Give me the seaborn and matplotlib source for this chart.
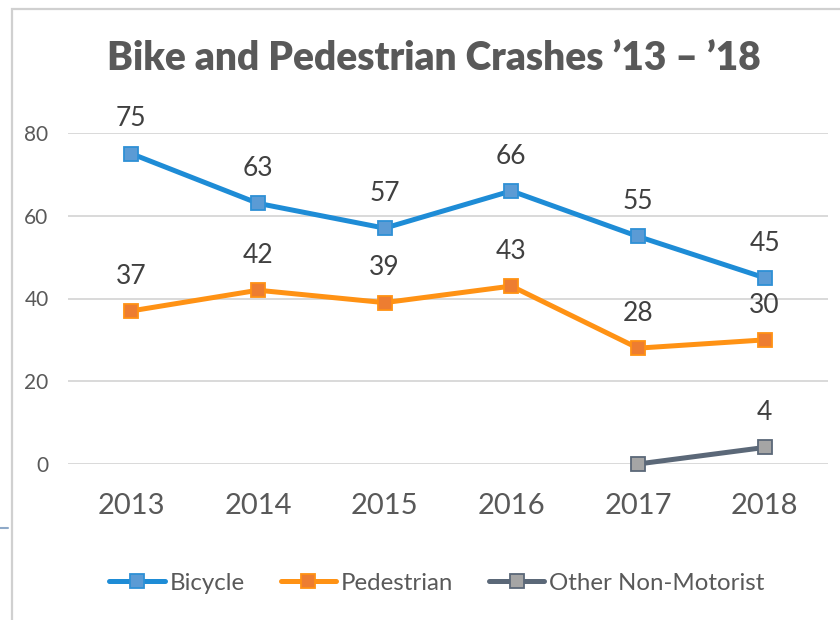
import numpy as np
import pandas as pd
import seaborn as sns
import matplotlib
matplotlib.use("Agg")
import matplotlib.pyplot as plt
from matplotlib.lines import Line2D
from matplotlib.patches import Rectangle

years = ["2013", "2014", "2015", "2016", "2017", "2018"]
bicycle = [75, 63, 57, 66, 55, 45]
pedestrian = [37, 42, 39, 43, 28, 30]
other = [np.nan, np.nan, np.nan, np.nan, 0, 4]
series_names = ["Bicycle", "Pedestrian", "Other Non-Motorist"]
yticks = [0, 20, 40, 60, 80]
title = "Bike and Pedestrian Crashes \u201913 \u2013 \u201918"

sns.set_theme(style="white")
plt.rcParams["font.family"] = ["Lato", "DejaVu Sans"]

W, H = 840, 620
fig = plt.figure(figsize=(W / 100, H / 100), dpi=100)
ax = fig.add_axes([68 / W, 1 - 464 / H, (828 - 68) / W, (464 - 133) / H])

styles = {
    "Bicycle": dict(line="#1E8CD6", face="#5B9BD5", edge="#2E90D6"),
    "Pedestrian": dict(line="#FF9214", face="#ED7D31", edge="#FF9214"),
    "Other Non-Motorist": dict(line="#5B6878", face="#A5A5A5", edge="#5B6878"),
}

x = np.arange(len(years))
for name, vals in zip(series_names, [bicycle, pedestrian, other]):
    df = pd.DataFrame({"x": x, "y": vals}).dropna()
    st = styles[name]
    sns.lineplot(data=df, x="x", y="y", ax=ax, color=st["line"], linewidth=3.6,
                 marker="s", markersize=10, markerfacecolor=st["face"],
                 markeredgecolor=st["edge"], markeredgewidth=1.3, clip_on=False,
                 zorder=3)
    for xi, yi in zip(df["x"], df["y"]):
        if yi == 0:
            continue  # zero label is hidden in the reference
        ax.annotate(f"{int(yi)}", (xi, yi), xytext=(0, 25), textcoords="offset points",
                    ha="center", va="center", fontsize=19, color="#404040")

ax.set_xlim(-0.5, len(years) - 0.5)
ax.set_ylim(0, 80)
ax.set_yticks(yticks)
ax.set_xticks(x)
ax.set_xticklabels(years)
ax.set_xlabel("")
ax.set_ylabel("")
ax.grid(axis="y", color="#D9D9D9", linewidth=1.4)
ax.grid(axis="x", visible=False)
ax.set_axisbelow(True)
for s in ax.spines.values():
    s.set_visible(False)
ax.tick_params(axis="y", length=0, pad=14, labelsize=15, labelcolor="#595959")
ax.tick_params(axis="x", length=0, pad=21, labelsize=21, labelcolor="#595959")

fig.text(434 / W, 1 - 58 / H, title, ha="center", va="center", fontsize=28,
         fontweight="heavy", color="#595959")

handles = [Line2D([0], [0], color=styles[n]["line"], linewidth=3.6, marker="s",
                  markersize=10, markerfacecolor=styles[n]["face"],
                  markeredgecolor=styles[n]["edge"], markeredgewidth=1.3)
           for n in series_names]
leg = fig.legend(handles, series_names, loc="center", bbox_to_anchor=(437 / W, 1 - 583 / H),
                 ncol=3, frameon=False, fontsize=17.3, handlelength=2.3,
                 handletextpad=0.2, columnspacing=1.5, labelcolor="#595959")

# chart border (extends beyond right/bottom) and stray mark at left
fig.add_artist(Rectangle((12 / W, -0.1), 1.2, 1 - 9 / H + 0.1, transform=fig.transFigure,
                         fill=False, edgecolor="#D0D0D0", linewidth=1.6))
fig.add_artist(Line2D([0, 8 / W], [1 - 528 / H, 1 - 528 / H], transform=fig.transFigure,
                      color="#8EA9C8", linewidth=1.5))

fig.savefig("out.png", dpi=100, facecolor="white")
